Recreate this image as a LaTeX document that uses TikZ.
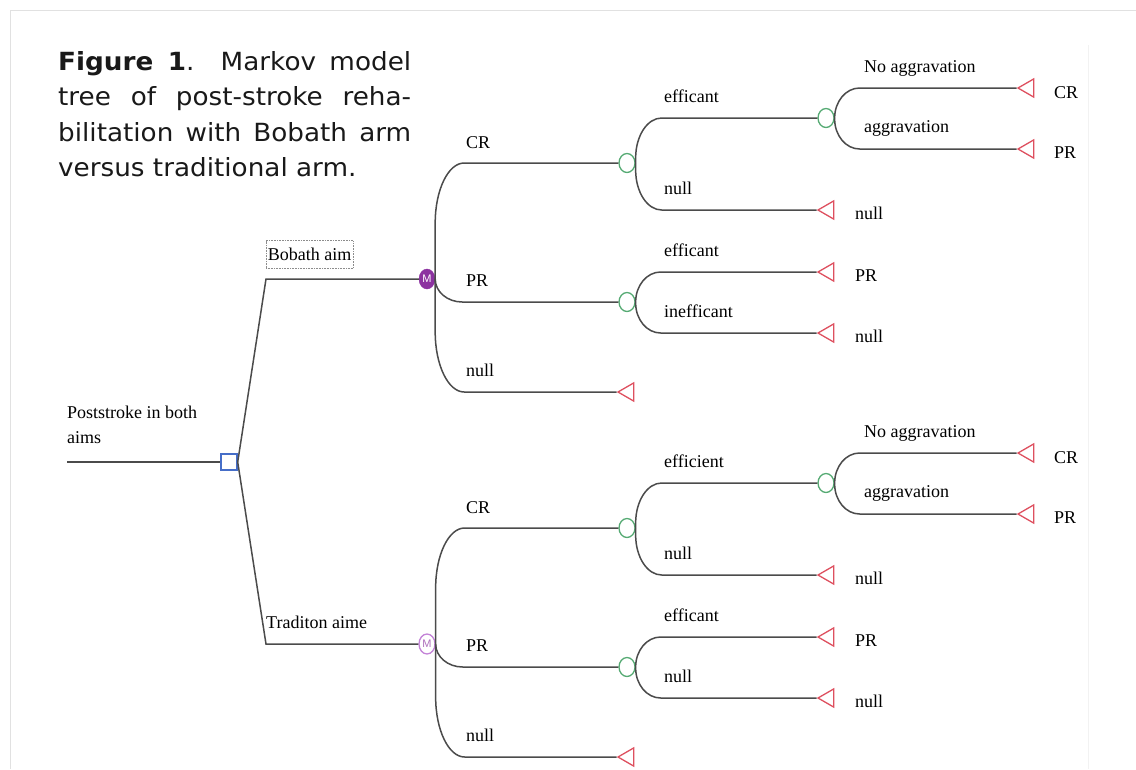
\documentclass[tikz,border=0pt]{standalone}
\usepackage{fontspec}
\setmainfont{Liberation Serif}
\newfontfamily\capfont[FakeStretch=1.05]{DejaVu Sans}
\newfontfamily\mfont{Liberation Sans}
\usetikzlibrary{shapes.geometric,calc}
\definecolor{ln}{RGB}{75,75,75}
\definecolor{decblue}{RGB}{70,110,200}
\definecolor{chgreen}{RGB}{85,170,115}
\definecolor{termred}{RGB}{222,80,95}
\definecolor{mpurple}{RGB}{140,50,160}
\definecolor{mlight}{RGB}{195,130,215}
\definecolor{framec}{RGB}{225,225,225}
\begin{document}
\begin{tikzpicture}[x=1pt,y=-1pt,
  conn/.style={draw=ln,line width=1.5pt},
  br/.style n args={2}{to path={let \p1=(\tikztostart), \p2=(\tikztotarget),
      \n1={sign(\y2-\y1)}, \n2={min(#2,abs(\y2-\y1))} in
      (\p1) -- (\x1,{\y2-\n1*\n2*1pt})
      .. controls (\x1,{\y2-\n1*0.448*\n2*1pt}) and ({\x1+0.448*#1*1pt},\y2)
      .. ({\x1+#1*1pt},\y2) -- (\p2)}},
  lbl/.style={font=\fontsize{18}{22}\selectfont,anchor=base west,inner sep=0pt,text=black},
  decnode/.style={rectangle,draw=decblue,line width=1.4pt,minimum size=16pt,inner sep=0pt,fill=white},
  chance/.style={ellipse,draw=chgreen,line width=1.3pt,minimum width=16pt,minimum height=19pt,inner sep=0pt,fill=white},
  term/.style={regular polygon,regular polygon sides=3,shape border rotate=90,draw=termred,line width=1.3pt,minimum size=21pt,inner sep=0pt},
  mnodeA/.style={ellipse,fill=mpurple,draw=mpurple,minimum width=16pt,minimum height=20pt,inner sep=0pt,text=white,font=\mfont\fontsize{11}{11}\selectfont},
  mnodeB/.style={ellipse,draw=mlight,fill=white,line width=1.3pt,minimum width=16pt,minimum height=20pt,inner sep=0pt,text=mpurple!70,font=\mfont\fontsize{11}{11}\selectfont},
  ttl/.style={font=\capfont\fontsize{25}{35}\selectfont,anchor=base west,inner sep=0pt,text=black!90},
]
\useasboundingbox (0,0) rectangle (1136,769);
% frame
\draw[framec,line width=1pt] (10,769) -- (10,10) -- (1136,10);
\draw[black!5,line width=0.8pt] (1088,45) -- (1088,769);

% title
\node[ttl] (t1) at (58,70) {\makebox[353pt][s]{\textbf{Figure 1}. Markov model}};
\node[ttl] (t2) at (58,105) {\makebox[353pt][s]{tree of post-stroke reha-}};
\node[ttl] (t3) at (58,141) {\makebox[353pt][s]{bilitation with Bobath arm}};
\node[ttl] (t4) at (58,176) {versus traditional arm.};

% root
\coordinate (start) at (67,462);
\node[decnode] (root) at (229,462) {};
\node[lbl] (rl1) at (67,418) {Poststroke in both};
\node[lbl] (rl2) at (67,443) {aims};
\coordinate (bu) at (266,279);
\coordinate (bl) at (266,644);
\node[mnodeA] (m1) at (427,279) {M};
\node[mnodeB] (m2) at (427,644) {M};
\draw[conn] (start) -- (root.west);
\draw[conn] (root.east) -- (bu) -- (m1.west);
\draw[conn] (root.east) -- (bl) -- (m2.west);
\node[lbl,draw=black!45,densely dotted,line width=0.6pt,anchor=center,minimum width=87pt,minimum height=28pt] (bob) at (309.5,254.5) {Bobath aim};
\node[lbl] (trad) at (266,628) {Traditon aime};

% ===== upper tree =====
\node[chance] (c1) at (627,163) {};
\node[chance] (c11) at (826,118) {};
\node[chance] (c2) at (627,302) {};
\node[term] (e111) at (1028.5,88) {};
\node[term] (e112) at (1028.5,149) {};
\node[term] (e12) at (828.5,210) {};
\node[term] (e21) at (828.5,272) {};
\node[term] (e22) at (828.5,333) {};
\node[term] (e3) at (628.5,392) {};

\draw[conn] (m1.east) to[br={29}{60}] (c1.west);
\draw[conn] (m1.east) to[br={27}{60}] (c2.west);
\draw[conn] (m1.east) to[br={29}{60}] (e3.corner 1);
\draw[conn] (c1.east) to[br={26}{40}] (c11.west);
\draw[conn] (c1.east) to[br={26}{40}] (e12.corner 1);
\draw[conn] (c11.east) to[br={25}{30}] (e111.corner 1);
\draw[conn] (c11.east) to[br={25}{30}] (e112.corner 1);
\draw[conn] (c2.east) to[br={25}{30}] (e21.corner 1);
\draw[conn] (c2.east) to[br={25}{30}] (e22.corner 1);

\node[lbl] (a1) at (466,148) {CR};
\node[lbl] (a2) at (466,286) {PR};
\node[lbl] (a3) at (466,376) {null};
\node[lbl] (a4) at (664,102) {efficant};
\node[lbl] (a5) at (664,194) {null};
\node[lbl] (a6) at (855,219) {null};
\node[lbl] (a7) at (864,72) {No aggravation};
\node[lbl] (a8) at (864,132) {aggravation};
\node[lbl] (a9) at (1054,98) {CR};
\node[lbl] (a10) at (1054,158) {PR};
\node[lbl] (a11) at (664,256) {efficant};
\node[lbl] (a12) at (664,317) {inefficant};
\node[lbl] (a13) at (855,281) {PR};
\node[lbl] (a14) at (855,342) {null};

% ===== lower tree =====
\node[chance] (d1) at (627,528) {};
\node[chance] (d11) at (826,483) {};
\node[chance] (d2) at (627,667) {};
\node[term] (f111) at (1028.5,453) {};
\node[term] (f112) at (1028.5,514) {};
\node[term] (f12) at (828.5,575) {};
\node[term] (f21) at (828.5,637) {};
\node[term] (f22) at (828.5,698) {};
\node[term] (f3) at (628.5,757) {};

\draw[conn] (m2.east) to[br={29}{60}] (d1.west);
\draw[conn] (m2.east) to[br={27}{60}] (d2.west);
\draw[conn] (m2.east) to[br={29}{60}] (f3.corner 1);
\draw[conn] (d1.east) to[br={26}{40}] (d11.west);
\draw[conn] (d1.east) to[br={26}{40}] (f12.corner 1);
\draw[conn] (d11.east) to[br={25}{30}] (f111.corner 1);
\draw[conn] (d11.east) to[br={25}{30}] (f112.corner 1);
\draw[conn] (d2.east) to[br={25}{30}] (f21.corner 1);
\draw[conn] (d2.east) to[br={25}{30}] (f22.corner 1);

\node[lbl] (b1) at (466,513) {CR};
\node[lbl] (b2) at (466,651) {PR};
\node[lbl] (b3) at (466,741) {null};
\node[lbl] (b4) at (664,467) {efficient};
\node[lbl] (b5) at (664,559) {null};
\node[lbl] (b6) at (855,584) {null};
\node[lbl] (b7) at (864,437) {No aggravation};
\node[lbl] (b8) at (864,497) {aggravation};
\node[lbl] (b9) at (1054,463) {CR};
\node[lbl] (b10) at (1054,523) {PR};
\node[lbl] (b11) at (664,621) {efficant};
\node[lbl] (b12) at (664,682) {null};
\node[lbl] (b13) at (855,646) {PR};
\node[lbl] (b14) at (855,707) {null};
\end{tikzpicture}
\end{document}
